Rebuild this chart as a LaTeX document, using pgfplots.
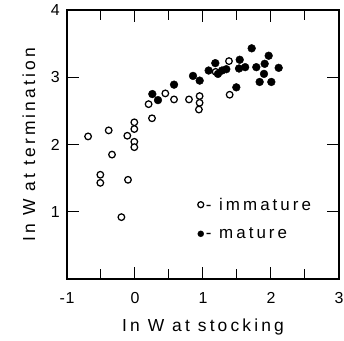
\documentclass[border=0pt]{standalone}
\usepackage{fontspec}
\setmainfont{Liberation Sans}
\newfontfamily\lab[LetterSpace=18]{Liberation Sans}
\newfontfamily\tlab[LetterSpace=5]{Liberation Sans}
\usepackage{pgfplots}
\pgfplotsset{compat=1.18}
\begin{document}
\begin{tikzpicture}
\useasboundingbox (-67bp,-62bp) rectangle (277bp,279bp);
\begin{axis}[
  at={(0,0)}, anchor=south west,
  scale only axis, width=272bp, height=269bp,
  xmin=-1, xmax=3, ymin=0, ymax=4,
  xtick={-1,0,1,2,3}, xticklabels={-1,0,1,2,3},
  minor xtick={-0.5,0.5,1.5,2.5},
  ytick={1,2,3,4}, yticklabels={1,2,3,4},
  tick align=inside,
  major tick length=12bp, minor tick length=10bp,
  every tick/.style={black, line width=1bp},
  axis line style={line width=1.2bp},
  ticklabel style={font=\fontsize{16}{16}\selectfont\tlab},
  xticklabel style={anchor=base, inner sep=0pt, yshift=-24.3bp},
  yticklabel style={anchor=east, inner sep=0pt, xshift=-7bp},
  xlabel={In W at stocking},
  ylabel={In W at termination},
  every axis x label/.style={at={(axis description cs:0.5,-0.1952)}, anchor=base, font=\fontsize{17.5}{17.5}\selectfont\lab},
  every axis y label/.style={at={(axis description cs:-0.1176,0.5)}, rotate=90, anchor=base, font=\fontsize{17.5}{17.5}\selectfont\lab},
  legend style={draw=none, fill=none, at={(axis description cs:0.48,0.31)}, anchor=north west,
    font=\fontsize{17}{17}\selectfont\lab, row sep=12bp, inner sep=0pt,
    nodes={inner sep=2bp}},
  legend cell align=left,
  legend image code/.code={\draw[#1, mark size=3bp] plot coordinates {(0bp,0bp)};},
]
\addplot[only marks, mark=*, mark size=3.3bp, line width=1.25bp, draw=black, fill=white] coordinates {
(-0.69,2.12) (-0.387,2.21) (-0.338,1.85) (-0.51,1.55) (-0.51,1.43) (-0.103,1.475)
(-0.20,0.92) (-0.113,2.13) (-0.01,2.33) (-0.01,2.23) (-0.01,2.04) (-0.01,1.96)
(0.20,2.60) (0.25,2.39) (0.446,2.76) (0.574,2.67) (0.794,2.67) (0.95,2.72)
(0.95,2.62) (0.94,2.52) (1.392,2.74) (1.382,3.24) (1.186,3.08)
};
\addlegendentry{- immature}
\addplot[only marks, mark=*, mark size=3.9bp, draw=black, fill=black] coordinates {
(0.255,2.75) (0.338,2.66) (0.574,2.89) (0.853,3.02) (0.951,2.95) (1.083,3.10)
(1.181,3.21) (1.22,3.05) (1.28,3.10) (1.343,3.12) (1.49,2.85) (1.54,3.26)
(1.53,3.13) (1.62,3.15) (1.716,3.43) (1.784,3.15) (1.833,2.93) (1.897,3.05)
(1.966,3.32) (1.907,3.20) (2.005,2.93) (2.113,3.14)
};
\addlegendentry{- mature}
\end{axis}
\end{tikzpicture}
\end{document}
